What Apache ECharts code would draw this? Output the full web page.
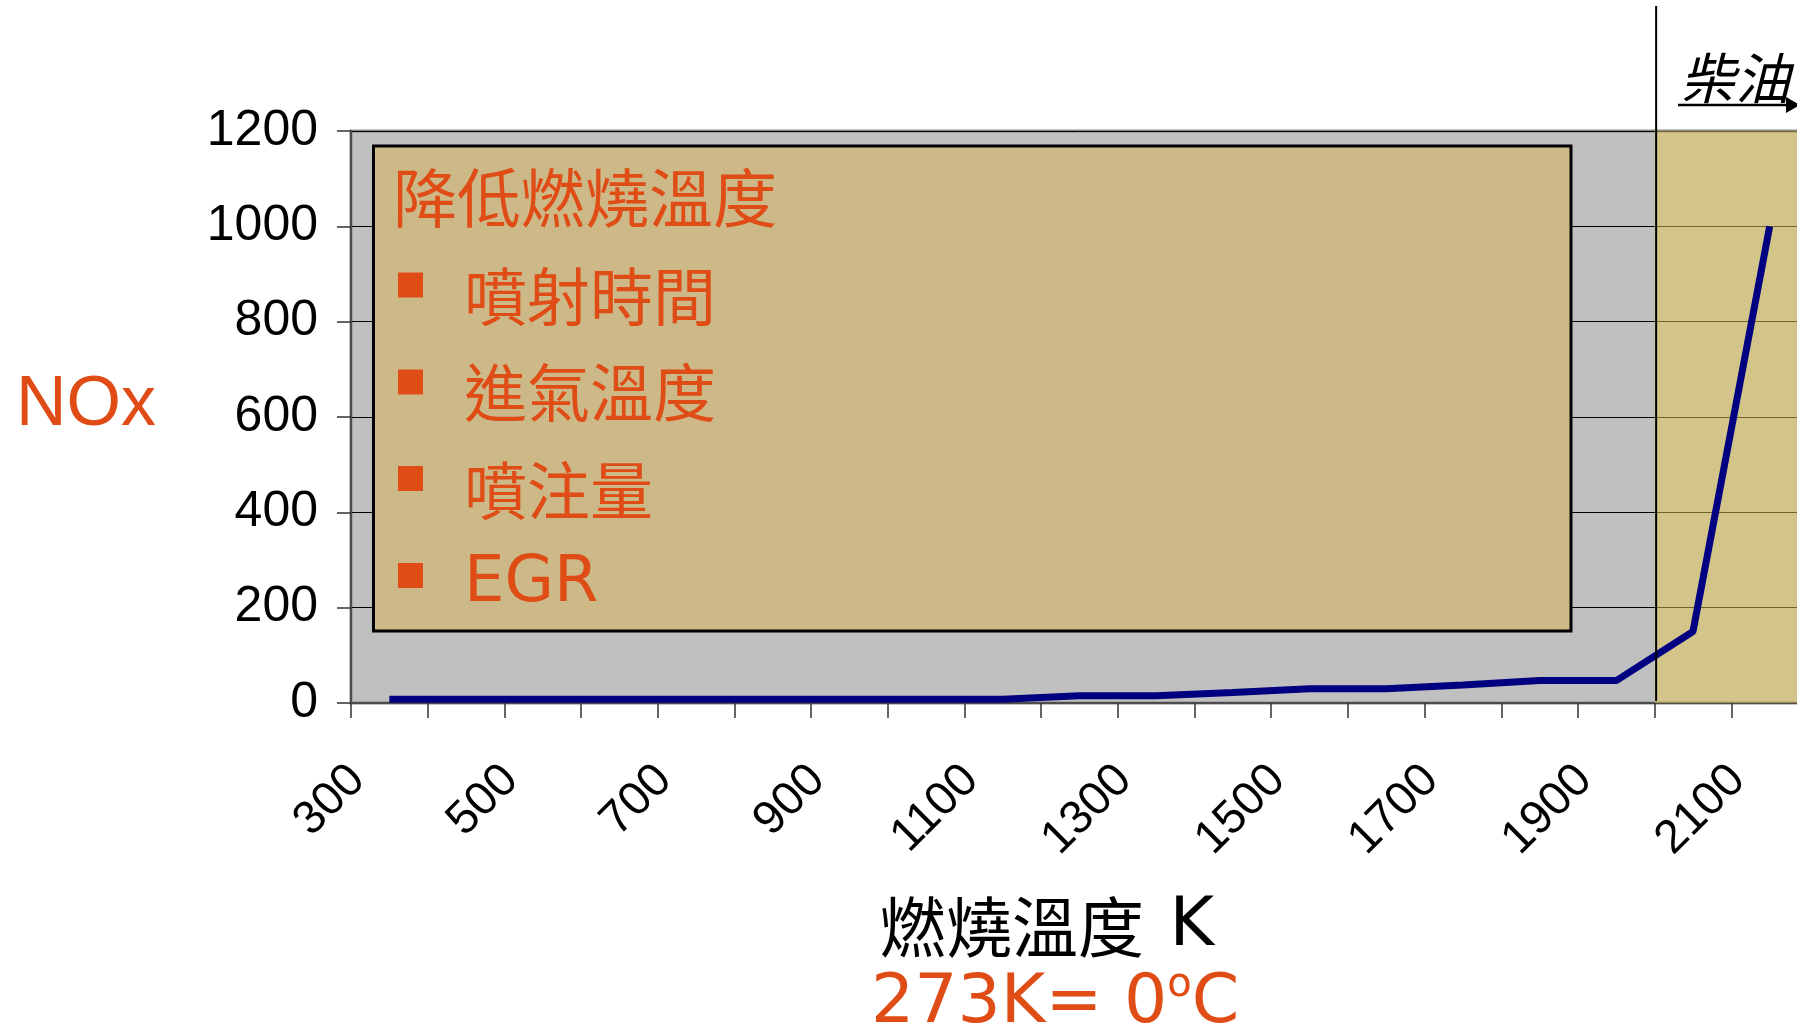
<!DOCTYPE html>
<html>
<head>
<meta charset="utf-8">
<script src="https://cdn.jsdelivr.net/npm/echarts@6/dist/echarts.min.js"></script>
<style>
html,body{margin:0;padding:0;background:#fff;overflow:hidden;}
#c{width:1860px;height:1032px;}
</style>
</head>
<body>
<div id="c"></div>
<script>
// ---- data ----
var temperatures = ['300','400','500','600','700','800','900','1000','1100','1200','1300','1400','1500','1600','1700','1800','1900','2000','2100'];
var noxValues = [8,8,8,8,8,8,8,8,8,15,15,22,30,30,38,47,47,150,1000];
var yTicks = [0, 1200, 200]; // min, max, interval
var dieselStart = 16.5; // boundary between 1900 and 2000 categories
var boxTitle = '降低燃燒溫度';
var boxItems = ['噴射時間', '進氣溫度', '噴注量', 'EGR'];
var yName = 'NOx';
var xName1 = '燃燒溫度';
var xName2 = ' K';
var noteMain = '273K= 0';
var noteSup = 'o';
var noteEnd = 'C';
var dieselLabel = '柴油';

var ORANGE = '#E04C16';
var CJK = '"Noto Sans CJK TC", "Noto Sans CJK SC", sans-serif';
var N = temperatures.length;

var chart = echarts.init(document.getElementById('c'), null, {renderer: 'canvas'});

var option = {
  backgroundColor: '#ffffff',
  animation: false,
  grid: {
    left: 351, top: 131, width: 1457, height: 572,
    show: true, backgroundColor: '#C0C0C0', borderColor: '#8a8a8a', borderWidth: 3
  },
  xAxis: [{
    type: 'category',
    data: temperatures,
    boundaryGap: true,
    axisLine: {show: true, onZero: false, lineStyle: {color: '#4d4d4d', width: 2}},
    axisTick: {show: true, interval: 0, length: 15, alignWithLabel: false, lineStyle: {color: '#333', width: 1.5}},
    axisLabel: {
      interval: 1, rotate: 45, margin: 38, padding: [0, 45, 0, 0],
      fontSize: 47, fontFamily: '"Liberation Sans", Arial, sans-serif', color: '#000'
    },
    splitLine: {show: false}
  }, {
    type: 'value', min: -0.5, max: N - 0.5, show: false
  }],
  yAxis: {
    type: 'value', min: yTicks[0], max: yTicks[1], interval: yTicks[2],
    axisLine: {show: true, onZero: false, lineStyle: {color: '#4d4d4d', width: 2}},
    axisTick: {show: true, length: 14, lineStyle: {color: '#333', width: 1.5}},
    axisLabel: {margin: 33, padding: [8, 0, 0, 0], fontSize: 50, fontFamily: '"Liberation Sans", Arial, sans-serif', color: '#000',
      formatter: function (v) { return String(v); }},
    splitLine: {show: true, lineStyle: {color: '#000', width: 1}}
  },
  series: [{
    type: 'line',
    xAxisIndex: 1,
    data: [],
    z: 1,
    clip: false,
    silent: true,
    markArea: {
      silent: true,
      itemStyle: {color: 'rgba(230,200,84,0.5)'},
      data: [[{xAxis: dieselStart, yAxis: yTicks[1]}, {xAxis: N - 0.5, yAxis: -10}]]
    }
  }, {
    type: 'line',
    data: noxValues,
    z: 5,
    symbol: 'none',
    lineStyle: {color: '#000080', width: 7},
    clip: false
  }]
};
chart.setOption(option);

var vx = chart.convertToPixel({xAxisIndex: 1}, dieselStart) + 1.5;
var yBottom = chart.convertToPixel({yAxisIndex: 0}, 0);

chart.setOption({
  graphic: [
    // text box
    {type: 'rect', shape: {x: 373.5, y: 146, width: 1197.5, height: 485}, z: 50,
     style: {fill: '#CDB888', stroke: '#000', lineWidth: 3}},
    {type: 'text', x: 393, y: 198, z: 51,
     style: {text: boxTitle, font: '64px ' + CJK, fill: ORANGE, verticalAlign: 'middle'}},
    {type: 'rect', shape: {x: 398, y: 272.5, width: 25, height: 25}, z: 51, style: {fill: ORANGE}},
    {type: 'rect', shape: {x: 398, y: 369.5, width: 25, height: 25}, z: 51, style: {fill: ORANGE}},
    {type: 'rect', shape: {x: 398, y: 466, width: 25, height: 25}, z: 51, style: {fill: ORANGE}},
    {type: 'rect', shape: {x: 398, y: 563, width: 25, height: 25}, z: 51, style: {fill: ORANGE}},
    {type: 'text', x: 464, y: 296, z: 51,
     style: {text: boxItems[0], font: '63px ' + CJK, fill: ORANGE, verticalAlign: 'middle'}},
    {type: 'text', x: 464, y: 392, z: 51,
     style: {text: boxItems[1], font: '63px ' + CJK, fill: ORANGE, verticalAlign: 'middle'}},
    {type: 'text', x: 464, y: 490, z: 51,
     style: {text: boxItems[2], font: '63px ' + CJK, fill: ORANGE, verticalAlign: 'middle'}},
    {type: 'text', x: 464, y: 584, z: 51,
     style: {text: boxItems[3], font: '64px "DejaVu Sans", Verdana, sans-serif', fill: ORANGE, verticalAlign: 'middle'}},
    // y name
    {type: 'text', x: 86, y: 406, z: 51,
     style: {text: yName, font: '70px "Liberation Sans", Arial, sans-serif', fill: ORANGE, align: 'center', verticalAlign: 'middle'}},
    // x name
    {type: 'text', x: 880, y: 927, z: 51,
     style: {
       text: '{c|' + xName1 + '}{k|' + xName2 + '}',
       verticalAlign: 'middle',
       rich: {
         c: {font: '66px ' + CJK, fill: '#000', color: '#000'},
         k: {font: '68px "DejaVu Sans", Verdana, sans-serif', fill: '#000', color: '#000', padding: [0, 0, 0, 4]}
       }
     }},
    // note
    {type: 'text', x: 871, y: 1004, z: 51,
     style: {
       text: '{m|' + noteMain + '}{s|' + noteSup + '}{m|' + noteEnd + '}',
       verticalAlign: 'middle',
       rich: {
         m: {font: '68px "DejaVu Sans", Verdana, sans-serif', fill: ORANGE, color: ORANGE, lineHeight: 76},
         s: {font: '40px "DejaVu Sans", Verdana, sans-serif', fill: ORANGE, color: ORANGE, verticalAlign: 'top', lineHeight: 44}
       }
     }},
    // diesel marker
    {type: 'line', shape: {x1: vx, y1: 6, x2: vx, y2: yBottom - 2}, z: 52,
     style: {stroke: '#000', lineWidth: 2}},
    {type: 'text', x: 1680, y: 78, z: 52,
     style: {text: dieselLabel, font: 'italic 55px ' + CJK, fill: '#000', verticalAlign: 'middle'}},
    {type: 'line', shape: {x1: 1678, y1: 105, x2: 1792, y2: 105}, z: 52,
     style: {stroke: '#000', lineWidth: 2.5}},
    {type: 'polygon', shape: {points: [[1786, 97], [1800, 105], [1786, 113]]}, z: 52,
     style: {fill: '#000'}}
  ]
});
</script>
</body>
</html>
